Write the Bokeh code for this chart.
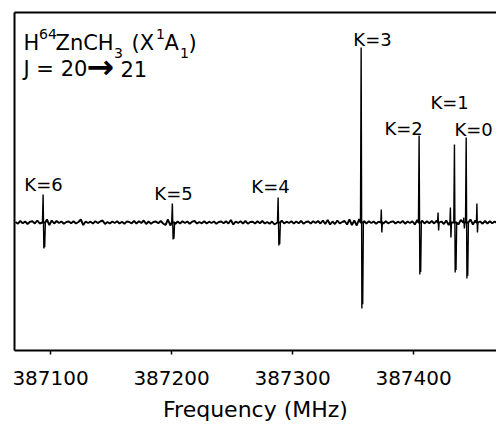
import numpy as np
from bokeh.plotting import figure
from bokeh.models import Range1d, LinearAxis, FixedTicker, ColumnDataSource, Label
from bokeh.core.properties import value
from bokeh.embed import file_html
from bokeh.resources import INLINE

# ---------------- data ----------------
tick_values = [387100, 387200, 387300, 387400]
tick_labels = ["387100", "387200", "387300", "387400"]

line_k = ["K=6", "K=5", "K=4", "K=3", "K=2", "K=1", "K=0"]
line_freq = [387094.2, 387201.0, 387288.4, 387357.0, 387404.9, 387434.1, 387443.8]
line_up = [2.8, 1.9, 2.5, 17.5, 8.7, 7.8, 8.5]
line_down = [-2.6, -1.7, -2.3, -8.6, -5.2, -5.0, -5.6]

weak_freq = [387373.5, 387420.4, 387430.6, 387441.7, 387452.5]
weak_up = [1.3, 1.0, 1.5, 0.5, 1.9]
weak_down = [-1.0, -0.8, -1.5, -0.6, -1.0]

noise_start = 387071.0
noise_step = 2.0
noise = [
    0.05, -0.12, 0.15, -0.08, 0.10, -0.15, 0.08, 0.12, -0.10, 0.20,
    -0.10, 0.25, -0.30, 0.30, -0.25, 0.20, -0.10, 0.15, -0.05, 0.10,
    -0.12, 0.05, 0.10, -0.08, 0.12, -0.10, 0.05, 0.30, -0.25, 0.10,
    -0.05, 0.08, -0.10, 0.12, -0.06, 0.10, 0.20, -0.15, 0.05, -0.10,
    0.10, -0.05, 0.12, -0.10, 0.08, -0.12, 0.10, 0.05, -0.08, 0.15,
    -0.10, 0.12, -0.05, 0.20, -0.15, 0.10, -0.12, 0.05, 0.10, -0.08,
    0.15, -0.10, -0.25, 0.30, -0.30, 0.25, -0.15, 0.10, -0.10, 0.12,
    -0.05, 0.10, -0.12, 0.08, 0.15, -0.10, 0.05, -0.08, 0.12, -0.10,
    0.08, -0.05, 0.10, -0.12, 0.05, 0.10, -0.08, 0.12, -0.10, 0.25,
    -0.20, 0.10, -0.05, 0.12, -0.10, 0.15, -0.12, 0.05, 0.08, -0.10,
    0.12, -0.08, 0.15, -0.10, 0.05, -0.12, 0.10, -0.20, 0.25, -0.25,
    0.20, -0.10, 0.08, -0.05, 0.12, -0.10, 0.10, -0.08, 0.15, -0.12,
    0.05, 0.10, -0.10, 0.12, -0.05, 0.15, -0.10, 0.20, -0.15, 0.25,
    -0.20, 0.10, -0.15, 0.20, -0.10, 0.05, 0.15, -0.20, 0.30, -0.25,
    0.20, -0.30, 0.35, -0.30, 0.15, -0.10, 0.12, -0.05, 0.10, -0.12,
    0.08, 0.10, -0.10, 0.12, -0.08, 0.05, 0.12, -0.10, 0.08, -0.05,
    0.15, -0.12, 0.10, -0.05, 0.12, -0.20, 0.25, -0.30, 0.20, -0.10,
    0.12, -0.08, 0.15, -0.10, 0.20, -0.12, 0.10, -0.15, 0.20, -0.25,
    0.30, -0.35, 0.30, -0.20, 0.25, -0.30, 0.20, -0.25, 0.30, -0.20,
    0.20, -0.15, 0.10, -0.12, 0.15, -0.10, 0.12, -0.08, 0.10, -0.05,
]

# ---------------- layout helpers (pixel -> data) ----------------
X0, X1 = 387070.2, 387468.5
Y0, Y1 = -12.8, 21.0
def fx(px):
    return X0 + (px - 14) / 1.21
def fy(py):
    return (222 - py) / 10.0

label_x = [fx(43), fx(173), fx(270), fx(372), fx(403), fx(449), fx(473)]
label_y = [fy(183.5), fy(193), fy(186), fy(39), fy(128), fy(102), fy(129)]

# ---------------- build traces ----------------
nf = noise_start + noise_step * np.arange(len(noise))
nv = np.array(noise)
keep = np.ones(len(nf), dtype=bool)
for f in line_freq:
    keep &= np.abs(nf - f) > 1.6
for f in weak_freq:
    keep &= np.abs(nf - f) > 0.9
xs = list(nf[keep])
ys = list(nv[keep])

# line shapes (drawn thinner, on top of the baseline)
main_dx = [-0.9, -0.35, 0.25, 0.6, 0.95, 1.5]
seg_x, seg_y = [], []
for f, u, d in zip(line_freq, line_up, line_down):
    seg_x.append([f + dx for dx in main_dx])
    seg_y.append([0.0, u, d, d * 0.35, d * 0.95, 0.0])
weak_dx = [-0.6, -0.2, 0.25, 0.7]
for f, u, d in zip(weak_freq, weak_up, weak_down):
    seg_x.append([f + dx for dx in weak_dx])
    seg_y.append([0.0, u, d, 0.0])
# baseline passes through the line centres
for sx in seg_x:
    xs += [sx[0], sx[-1]]
    ys += [0.0, 0.0]

order = np.argsort(xs)
base_x = np.array(xs)[order]
base_y = np.array(ys)[order]

# ---------------- figure ----------------
p = figure(frame_width=482, frame_height=338,
           x_range=Range1d(X0, X1), y_range=Range1d(Y0, Y1),
           output_backend="svg", toolbar_location=None,
           min_border_left=14, min_border_right=0, min_border_top=12, min_border_bottom=76)
p.outline_line_color = None
p.grid.visible = False
p.background_fill_color = "white"
p.border_fill_color = "white"

p.line(base_x, base_y, line_color="black", line_width=1.9)
p.multi_line(seg_x, seg_y, line_color="black", line_width=1.4)

# bottom axis
xa = p.xaxis[0]
xa.ticker = FixedTicker(ticks=tick_values)
xa.major_label_overrides = {v: s for v, s in zip(tick_values, tick_labels)}
xa.axis_line_width = 2
xa.axis_line_color = "black"
xa.major_tick_in = 0
xa.major_tick_out = 4
xa.major_tick_line_width = 1.5
xa.major_tick_line_color = "black"
xa.minor_tick_in = 0
xa.minor_tick_out = 0
xa.major_label_standoff = 16
xa.major_label_text_font = "DejaVu Sans"
xa.major_label_text_font_size = "20px"
xa.major_label_text_color = "black"
xa.axis_label = "Frequency (MHz)"
xa.axis_label_text_font = "DejaVu Sans"
xa.axis_label_text_font_size = "22px"
xa.axis_label_text_font_style = "normal"
xa.axis_label_text_color = "black"
xa.axis_label_standoff = 9

# left axis: line only
ya = p.yaxis[0]
ya.ticker = FixedTicker(ticks=[])
ya.axis_line_width = 2
ya.axis_line_color = "black"
ya.major_tick_in = 0
ya.major_tick_out = 0
ya.minor_tick_in = 0
ya.minor_tick_out = 0
ya.major_label_text_font_size = "0px"
ya.major_label_standoff = 0

# top axis: line only
ta = LinearAxis(ticker=FixedTicker(ticks=[]), axis_line_width=2, axis_line_color="black",
                major_tick_in=0, major_tick_out=0, minor_tick_in=0, minor_tick_out=0,
                major_label_text_font_size="0px", major_label_standoff=0)
p.add_layout(ta, "above")

# K labels
src = ColumnDataSource(dict(x=label_x, y=label_y, t=line_k))
p.text(x="x", y="y", text="t", source=src, text_font=value("DejaVu Sans"),
       text_font_size="18px", text_align="center", text_baseline="alphabetic",
       text_color="black")

# title texts (pieces for super/subscripts)
def add_txt(px, py, s, size, style="normal"):
    p.add_layout(Label(x=fx(px), y=fy(py), text=s, text_font="DejaVu Sans",
                       text_font_size=size, text_font_style=style,
                       text_baseline="alphabetic", text_color="black"))

add_txt(23, 42, "H", "21px")
add_txt(38.5, 33, "64", "14px")
add_txt(55, 42, "ZnCH", "21px")
add_txt(113.5, 52, "3", "14px")
add_txt(131, 42, "(X", "21px")
add_txt(155.5, 33, "1", "14px")
add_txt(164, 42, "A", "21px")
add_txt(179.5, 52, "1", "14px")
add_txt(188, 42, ")", "21px")

add_txt(23, 68, "J = 20", "21px")
add_txt(86, 66, "\u2192", "33px", "bold")
add_txt(120, 68, "21", "21px")

open("out.html", "w").write(file_html(p, INLINE))
